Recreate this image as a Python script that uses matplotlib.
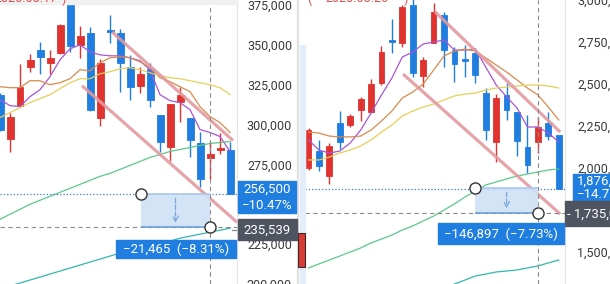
import numpy as np
import matplotlib.pyplot as plt
from matplotlib.patches import Rectangle

plt.rcParams['font.family'] = ['Roboto', 'DejaVu Sans']

W, H = 610, 284

# ---- left chart (won) ----
l_open = [318750, 291250, 311875, 336250, 346875, 338750, 345000, 385625, 350000, 357500, 304375, 359375,
          357500, 336250, 324375, 335000, 306250, 285625, 314375, 304375, 288125, 278750, 283750, 283750]
l_high = [320000, 307500, 338125, 344375, 351875, 346875, 363125, 390625, 361875, 361250, 341250, 368750,
          360000, 343750, 336250, 338750, 306250, 313125, 323750, 304375, 295625, 288750, 295000, 289375]
l_low = [296250, 282500, 311250, 333125, 331875, 331875, 344375, 345625, 341875, 308750, 299375, 351250,
         320625, 315625, 320000, 311250, 282500, 276875, 301875, 279375, 260625, 265625, 281250, 256500]
l_close = [296875, 305000, 323750, 340625, 342500, 341875, 362500, 349375, 355625, 309375, 338750, 358125,
           338750, 323750, 331875, 315625, 289375, 313125, 318750, 290625, 265625, 281250, 285000, 256500]

l_ma5 = [315625, 311875, 311250, 317500, 321875, 330000, 340625, 347500, 350000, 345625, 343750, 343125,
         343125, 341875, 340000, 334375, 318750, 315000, 313750, 309375, 296875, 295000, 292500, 283125]
l_ma10 = [323750, 323125, 323125, 327500, 327500, 325000, 326250, 328750, 334375, 333750, 338750, 341875,
          342500, 341875, 339375, 335625, 329375, 326875, 323750, 320625, 311250, 305000, 301250, 295000]
l_ma20 = [304375, 307500, 310625, 313750, 316250, 318750, 322500, 326250, 328750, 328750, 331875, 333125,
          335000, 335625, 334375, 332500, 330625, 329375, 328750, 327500, 326250, 325000, 323125, 318750]
l_ma60 = [240625, 243750, 246875, 250000, 252500, 255000, 257500, 260000, 262500, 265000, 267500, 269375,
          271875, 274375, 276875, 279375, 281250, 283125, 284375, 285625, 286875, 288125, 288750, 289375]
l_ma120 = [196875, 198750, 200625, 202500, 204375, 206250, 208125, 210000, 211875, 213750, 215625, 217500,
           219375, 220625, 222500, 223750, 225625, 226875, 228750, 230000, 231250, 232500, 233750, 235000]
l_ticks = [375000, 350000, 325000, 300000, 275000, 250000, 225000, 200000]
l_channel_up = ([11.2, 23.3], [358125, 290000])
l_channel_dn = ([8.2, 23.7], [324375, 238750])
l_last, l_target = 256500, 235539
l_measure = (14.1, 21.0)

# ---- right chart (thousand won) ----
r_open = [2000, 2101, 1952, 2268, 2256, 2345, 2333, 2506, 2762, 2744, 2970, 2548, 2744,
          2911, 2702, 2649, 2685, 2446, 2155, 2435, 2333, 2125, 2155, 2268, 2196]
r_high = [2238, 2167, 2149, 2339, 2321, 2423, 2530, 2726, 2887, 2970, 3012, 2661, 2982,
          2929, 2720, 2732, 2714, 2476, 2440, 2506, 2333, 2315, 2304, 2333, 2196]
r_low = [1988, 1982, 1905, 2113, 2244, 2280, 2327, 2494, 2685, 2720, 2542, 2482, 2744,
         2601, 2512, 2542, 2506, 2167, 2036, 2286, 2071, 1970, 2089, 2167, 1876]
r_close = [2226, 2012, 2131, 2155, 2310, 2411, 2500, 2690, 2750, 2958, 2565, 2643, 2929,
           2702, 2619, 2637, 2554, 2226, 2417, 2345, 2161, 2018, 2244, 2190, 1876]

r_ma5 = [2167, 2107, 2089, 2101, 2149, 2226, 2327, 2435, 2536, 2661, 2690, 2738, 2750,
         2762, 2702, 2702, 2708, 2601, 2494, 2423, 2357, 2244, 2244, 2208, 2155]
r_ma10 = [2214, 2208, 2190, 2185, 2185, 2190, 2226, 2280, 2339, 2417, 2452, 2500, 2583,
          2667, 2696, 2708, 2696, 2655, 2613, 2571, 2524, 2476, 2435, 2363, 2286]
r_ma20 = [2048, 2048, 2065, 2089, 2107, 2131, 2167, 2214, 2256, 2310, 2339, 2363, 2381,
          2405, 2429, 2440, 2446, 2464, 2476, 2482, 2488, 2494, 2494, 2488, 2476]
r_ma60 = [1405, 1429, 1452, 1476, 1500, 1524, 1554, 1577, 1601, 1631, 1655, 1685, 1714,
          1750, 1786, 1827, 1863, 1899, 1917, 1935, 1952, 1964, 1976, 1988, 1994]
r_ma120 = [1280, 1310, 1333, 1357, 1369, 1381, 1387, 1393, 1405, 1417, 1435, 1452]
r_ticks = [3000, 2750, 2500, 2250, 2000, 1750, 1500]
r_channel_up = ([12.14, 24.14], [2929, 2214])
r_channel_dn = ([9.07, 24.14], [2559, 1726])
r_last, r_target = 1876, 1735
r_measure = (16.0, 22.0)

RED = '#e0322f'
BLUE = '#1f7ee0'
MA_COLORS = ['#a855d8', '#d98a4e', '#e6cf5a', '#5cc88c', '#33b7b0']


def px(x, y):
    # pixel (from top-left) -> figure fraction
    return x / W, 1 - y / H


def candles(ax, o, h, l, c, width):
    x = np.arange(len(o))
    o, h, l, c = map(np.asarray, (o, h, l, c))
    col = np.where(c >= o, RED, BLUE)
    ax.vlines(x, l, h, colors=col, lw=1.0, zorder=2)
    ax.bar(x, np.abs(c - o), width, bottom=np.minimum(o, c), color=col, edgecolor=col, lw=0.6, zorder=2)


def setup(ax, ticks, fmt, pad, ha):
    ax.set_facecolor('white')
    for s in ['top', 'left', 'bottom']:
        ax.spines[s].set_visible(False)
    ax.spines['right'].set_color('#e4e4e4')
    ax.set_xticks([])
    ax.yaxis.tick_right()
    ax.set_yticks(ticks)
    ax.set_yticklabels([fmt(t) for t in ticks])
    ax.tick_params(axis='y', length=0, pad=pad, labelsize=9, labelcolor='#3a3a3a')
    for t in ax.get_yticklabels():
        t.set_horizontalalignment(ha)


def measure(ax, x0, x1, y0, y1, last, target):
    ax.axhline(last, color='#3b7dd8', ls=':', lw=0.9, zorder=4)
    ax.axhline(target, color='#8a8a8a', ls=(0, (4, 3)), lw=0.8, zorder=4)
    ax.axvline(x1, color='#8a8a8a', ls=(0, (4, 3)), lw=0.8, zorder=4)
    ax.add_patch(Rectangle((x0, y1), x1 - x0, y0 - y1, facecolor='#cfe1f6', edgecolor='none', alpha=0.9, zorder=4))
    ax.hlines([y0, y1], x0, x1, colors=['#a9c8ee', '#6f9fdc'], lw=1.2, zorder=5)
    xm = (x0 + x1) / 2
    ax.annotate('', xy=(xm, y1 + (y0 - y1) * 0.05), xytext=(xm, y0 - (y0 - y1) * 0.05),
                arrowprops=dict(arrowstyle='->', color='#7aa6dc', lw=0.9, ls='--'), zorder=5)
    ax.plot([x0, x1], [y0, y1], 'o', ms=8, mfc='white', mec='#333333', mew=1.0, zorder=6, clip_on=False)


fig = plt.figure(figsize=(W / 100, H / 100), dpi=100)

# left panel
axl = fig.add_axes([0, 0, 237 / W, 1])
candles(axl, l_open, l_high, l_low, l_close, 0.7)
for vals, colr in zip([l_ma5, l_ma10, l_ma20, l_ma60, l_ma120], MA_COLORS):
    axl.plot(np.arange(len(vals)), vals, color=colr, lw=0.9, zorder=3)
for xs, ys in [l_channel_up, l_channel_dn]:
    axl.plot(xs, ys, color='#e29aa0', lw=2.3, alpha=0.9, solid_capstyle='butt', zorder=4)
measure(axl, l_measure[0], l_measure[1], l_last, l_target, l_last, l_target)
axl.set_xlim(0, 23.7)
axl.set_ylim(375000 - 279 * 625, 375000 + 5 * 625)
setup(axl, l_ticks, lambda v: f'{v:,}', (292 - 237) * 0.72, 'right')

# right panel
axr = fig.add_axes([305 / W, 0, 260 / W, 1])
candles(axr, r_open, r_high, r_low, r_close, 0.55)
for vals, colr in zip([r_ma5, r_ma10, r_ma20, r_ma60], MA_COLORS):
    axr.plot(np.arange(len(vals)), vals, color=colr, lw=0.9, zorder=3)
axr.plot(np.arange(len(r_open) - len(r_ma120), len(r_open)), r_ma120, color=MA_COLORS[4], lw=0.9, zorder=3)
for xs, ys in [r_channel_up, r_channel_dn]:
    axr.plot(xs, ys, color='#e29aa0', lw=2.3, alpha=0.9, solid_capstyle='butt', zorder=4)
measure(axr, r_measure[0], r_measure[1], 1880, r_target, r_last, r_target)
axr.set_xlim(-0.336, 24.6)
axr.set_ylim(2000 - 116 * 250 / 42, 2000 + 168 * 250 / 42)
setup(axr, r_ticks, lambda v: f'{v * 1000:,}', (577 - 565) * 0.72, 'left')

# strip between panels
fig.add_artist(Rectangle(px(297, 284), 1 / W, 1, transform=fig.transFigure, color='#e2e2e2', zorder=1))
fig.add_artist(Rectangle(px(300, 284), 5 / W, (284 - 45) / H, transform=fig.transFigure, color='#e4eefa', zorder=1))
fig.add_artist(Rectangle(px(298, 267), 7 / W, 34 / H, transform=fig.transFigure,
                         facecolor='#d83a34', edgecolor='#3a2a2a', lw=0.8, zorder=7))
# faint band along the top of the left panel
fig.add_artist(Rectangle(px(0, 4), 237 / W, 4 / H, transform=fig.transFigure, color='#f0f0f0', zorder=1))


def box(x0, y0, x1, y1, color, lines, tx=None, ha='center'):
    fig.add_artist(Rectangle(px(x0, y1), (x1 - x0) / W, (y1 - y0) / H, transform=fig.transFigure,
                             color=color, zorder=8))
    n = len(lines)
    for k, s in enumerate(lines):
        yy = y0 + (y1 - y0) * (k + 0.5) / n
        xx = (x0 + x1) / 2 if tx is None else tx
        fig.text(*px(xx, yy + 0.5), s, color='white', fontsize=9.5, ha=ha, va='center', zorder=9)


box(238, 181, 296, 213, BLUE, ['256,500', '\u221210.47%'])
box(238, 219, 297, 240, '#4f5461', ['235,539'])
fig.add_artist(plt.Line2D([232 / W, 236 / W], [1 - 229.5 / H] * 2, color='#888888', lw=0.9))
box(116, 240, 236, 258, BLUE, ['\u221221,465  (\u22128.31%)'])

box(573, 174, 615, 201, BLUE, ['1,876,000', '\u221214.77%'], tx=577, ha='left')
box(565, 201, 615, 226, '#4f5461', ['- 1,735,000'], tx=567, ha='left')
box(438, 223, 564, 244, BLUE, ['\u2212146,897  (\u22127.73%)'])

# cut-off date captions at the top
fig.text(*px(-6, -1), '2020.08.17', color='#d9534f', fontsize=9, ha='left', va='center')
fig.text(*px(62, -1), ')', color='#d9534f', fontsize=9, ha='left', va='center')
fig.text(*px(307, -1), '(', color='#d9534f', fontsize=9, ha='left', va='center')
fig.text(*px(325, -1), '2020.08.25', color='#d9534f', fontsize=9, ha='left', va='center')
fig.text(*px(404, -1), ')', color='#d9534f', fontsize=9, ha='left', va='center')

fig.savefig('out.png', dpi=100)
